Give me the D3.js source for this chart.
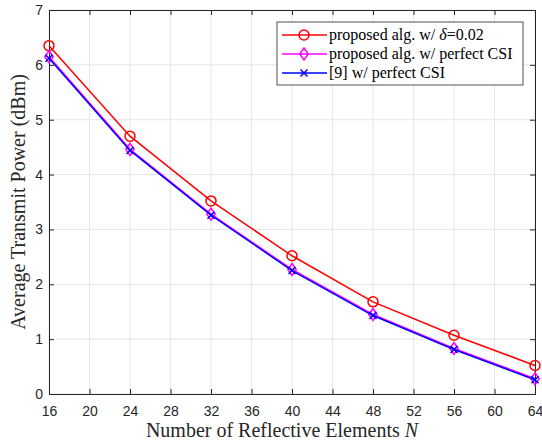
<!DOCTYPE html>
<html>
<head>
<meta charset="utf-8">
<script src="https://cdn.jsdelivr.net/npm/d3@7"></script>
<style>
  body { margin: 0; background: #fff; }
  .lab { font-family: "Liberation Serif", "Times New Roman", serif; font-size: 20px; fill: #262626; }
  .leg { font-family: "Liberation Serif", "Times New Roman", serif; font-size: 16px; fill: #000; }
</style>
</head>
<body>
<div id="root"></div>
<script>
// valores
const N = [16, 24, 32, 40, 48, 56, 64];
const propDelta = [6.35, 4.70, 3.52, 2.52, 1.68, 1.07, 0.52];
const propPerfect = [6.15, 4.46, 3.28, 2.27, 1.45, 0.83, 0.28];
const ref9 = [6.12, 4.44, 3.26, 2.25, 1.43, 0.81, 0.26];
const xTicks = [16, 20, 24, 28, 32, 36, 40, 44, 48, 52, 56, 60, 64];
const yTicks = [0, 1, 2, 3, 4, 5, 6, 7];

const series = [
  { name: 'proposed alg. w/ δ=0.02', vals: propDelta, color: '#ff0000', mk: 'o' },
  { name: 'proposed alg. w/ perfect CSI', vals: propPerfect, color: '#ff00ff', mk: 'd' },
  { name: '[9] w/ perfect CSI', vals: ref9, color: '#0000ff', mk: 'x' }
];

const W = 542, H = 440;
const m = { top: 10, right: 7, bottom: 46, left: 49 };
const svg = d3.select('#root').append('svg').attr('width', W).attr('height', H);

const x = d3.scaleLinear().domain([16, 64]).range([m.left, W - m.right]);
const y = d3.scaleLinear().domain([0, 7]).range([H - m.bottom, m.top]);

// grade
svg.append('g').selectAll('line').data(xTicks).join('line')
  .attr('x1', d => x(d)).attr('x2', d => x(d)).attr('y1', y(0)).attr('y2', y(7))
  .attr('stroke', '#e6e6e6').attr('stroke-width', 1);
svg.append('g').selectAll('line').data(yTicks).join('line')
  .attr('y1', d => y(d)).attr('y2', d => y(d)).attr('x1', x(16)).attr('x2', x(64))
  .attr('stroke', '#e6e6e6').attr('stroke-width', 1);

// eixos
const axCol = '#262626';
const fmt = d3.format('d');
const gx = svg.append('g').attr('transform', `translate(0,${y(0)})`)
  .call(d3.axisBottom(x).tickValues(xTicks).tickSize(-5).tickPadding(12).tickFormat(fmt));
const gy = svg.append('g').attr('transform', `translate(${x(16)},0)`)
  .call(d3.axisLeft(y).tickValues(yTicks).tickSize(-5).tickPadding(6).tickFormat(fmt));
const gt = svg.append('g').attr('transform', `translate(0,${y(7)})`)
  .call(d3.axisTop(x).tickValues(xTicks).tickSize(-5).tickFormat(''));
const gr = svg.append('g').attr('transform', `translate(${x(64)},0)`)
  .call(d3.axisRight(y).tickValues(yTicks).tickSize(-5).tickFormat(''));
[gx, gy, gt, gr].forEach(g => {
  g.attr('font-family', '"Liberation Sans", Arial, sans-serif').attr('font-size', 14);
  g.select('.domain').attr('stroke', axCol).attr('stroke-width', 1);
  g.selectAll('.tick line').attr('stroke', axCol);
  g.selectAll('.tick text').attr('fill', axCol);
});

// linhas
const line = d3.line().x((d, i) => x(N[i])).y(d => y(d));
function marker(g, type, cx, cy, col) {
  if (type === 'o') {
    g.append('circle').attr('cx', cx).attr('cy', cy).attr('r', 5)
      .attr('fill', 'none').attr('stroke', col).attr('stroke-width', 1.5);
  } else if (type === 'd') {
    const r = 6;
    g.append('path').attr('d', `M${cx},${cy - r}L${cx + r * 0.7},${cy}L${cx},${cy + r}L${cx - r * 0.7},${cy}Z`)
      .attr('fill', 'none').attr('stroke', col).attr('stroke-width', 1.5);
  } else {
    const r = 3.5;
    g.append('path').attr('d', `M${cx - r},${cy - r}L${cx + r},${cy + r}M${cx - r},${cy + r}L${cx + r},${cy - r}`)
      .attr('stroke', col).attr('stroke-width', 1.5);
  }
}
series.forEach(s => {
  const g = svg.append('g');
  g.append('path').datum(s.vals).attr('d', line)
    .attr('fill', 'none').attr('stroke', s.color).attr('stroke-width', 1.5);
  s.vals.forEach((v, i) => marker(g, s.mk, x(N[i]), y(v), s.color));
});

// rótulos
svg.append('text').attr('class', 'lab').attr('text-anchor', 'middle')
  .attr('x', (x(16) + x(64)) / 2 - 10).attr('y', 437)
  .html('Number of Reflective Elements <tspan font-style="italic">N</tspan>');
svg.append('text').attr('class', 'lab').attr('text-anchor', 'middle')
  .attr('transform', `translate(25,${(y(0) + y(7)) / 2}) rotate(-90)`)
  .text('Average Transmit Power (dBm)');

// legenda
const lg = svg.append('g').attr('transform', 'translate(277,22)');
lg.append('rect').attr('width', 246).attr('height', 63)
  .attr('fill', '#fff').attr('stroke', axCol).attr('stroke-width', 0.8);
series.forEach((s, i) => {
  const yy = 13 + i * 19;
  lg.append('line').attr('x1', 5).attr('x2', 50).attr('y1', yy).attr('y2', yy)
    .attr('stroke', s.color).attr('stroke-width', 1.5);
  marker(lg, s.mk, 27, yy, s.color);
  const t = lg.append('text').attr('class', 'leg').attr('x', 52).attr('y', yy + 5);
  if (i === 0) {
    t.html('proposed alg. w/ <tspan font-style="italic">δ</tspan>=0.02');
  } else {
    t.text(s.name);
  }
});
</script>
</body>
</html>
